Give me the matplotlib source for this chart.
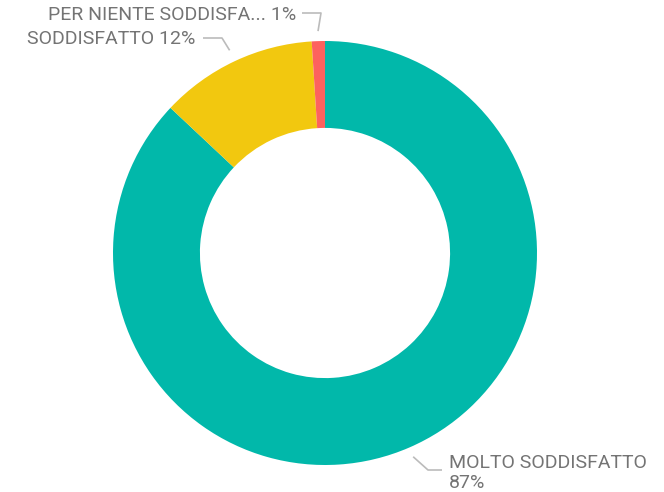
import numpy as np
import matplotlib
matplotlib.use("Agg")
import matplotlib.pyplot as plt

labels = ["MOLTO SODDISFATTO", "SODDISFATTO", "PER NIENTE SODDISFA..."]
values = [87, 12, 1]
colors = ["#01B8AA", "#F2C80F", "#FD625E"]

W, H = 664, 492
fig = plt.figure(figsize=(W / 100, H / 100), dpi=100)
ax = fig.add_axes([0, 0, 1, 1])

cx, cy, R = 325, H - 253, 212
wedges, _ = ax.pie(values, colors=colors, startangle=90, counterclock=False,
                   center=(cx, cy), radius=R, frame=True,
                   wedgeprops=dict(width=R * 0.41, linewidth=0))
ax.set_xlim(0, W)
ax.set_ylim(0, H)
ax.set_aspect("equal")
ax.axis("off")

txt_color = "#747474"
line_color = "#BBBBBB"
font = dict(family="Roboto", fontsize=14, color=txt_color)


def mid_angle(w):
    return np.deg2rad((w.theta1 + w.theta2) / 2)


def leader(w, r0, elbow, end):
    # elbow-shaped connector from just outside the slice to the label
    a = mid_angle(w)
    x0, y0 = cx + r0 * np.cos(a), cy + r0 * np.sin(a)
    ax.plot([x0, elbow[0], end[0]], [y0, elbow[1], end[1]],
            color=line_color, lw=1.2, solid_capstyle="butt")


# red slice (top)
leader(wedges[2], 222, (321, H - 13), (302, H - 13))
ax.text(296, H - 15, f"{labels[2]} {values[2]}%", ha="right", va="center", **font)

# yellow slice
leader(wedges[1], 224, (222, H - 38), (203, H - 38))
ax.text(195, H - 39, f"{labels[1]} {values[1]}%", ha="right", va="center", **font)

# teal slice
leader(wedges[0], 222, (428, H - 470), (442, H - 470))
ax.text(449, H - 473, f"{labels[0]}\n{values[0]}%", ha="left", va="center",
        linespacing=1.1, **font)

fig.savefig("out.png", dpi=100)
